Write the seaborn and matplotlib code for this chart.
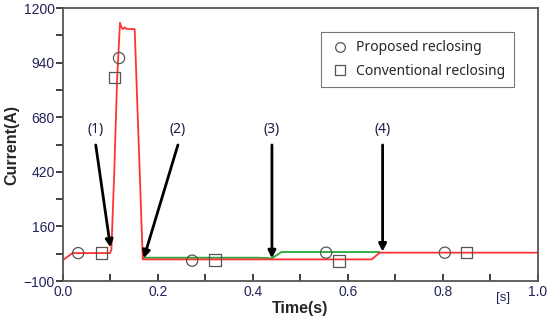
import numpy as np
import pandas as pd
import seaborn as sns
import matplotlib.pyplot as plt
from matplotlib.lines import Line2D

# conventional reclosing current (red)
conv_t = [0.0, 0.02, 0.099, 0.102, 0.108, 0.114, 0.12, 0.122, 0.126, 0.13, 0.134, 0.151, 0.168, 0.65, 0.667, 1.0]
conv_i = [0, 33, 33, 50, 420, 860, 1130, 1115, 1100, 1108, 1100, 1100, 3, 3, 35, 35]
# proposed reclosing current (green), only where it differs
prop_t = [0.168, 0.41, 0.44, 0.46, 0.667]
prop_i = [11, 11, 8, 38, 38]

# marker samples
circ_t = [0.032, 0.118, 0.272, 0.554, 0.804]
circ_i = [33, 962, -3, 35, 35]
sq_t = [0.081, 0.109, 0.32, 0.581, 0.85]
sq_i = [33, 871, 0, -5, 35]

# event arrows: label, tail (t, i), head (t, i)
events = ["(1)", "(2)", "(3)", "(4)"]
tail_t = [0.069, 0.242, 0.44, 0.673]
tail_i = [548, 548, 548, 548]
head_t = [0.1, 0.17, 0.44, 0.673]
head_i = [60, 8, 8, 40]

sns.set_style("ticks")
plt.rcParams['font.family'] = ['Liberation Sans', 'DejaVu Sans']

fig, ax = plt.subplots(figsize=(5.5, 3.23), dpi=100)
fig.subplots_adjust(left=0.1145, right=0.978, top=0.975, bottom=0.13)

sns.lineplot(x=prop_t, y=prop_i, color='#22a838', lw=1.3, ax=ax)
sns.lineplot(x=conv_t, y=conv_i, color='#ff3333', lw=1.3, ax=ax)

sns.scatterplot(x=circ_t, y=circ_i, marker='o', s=65, fc='none', ec='#555555', lw=0.9, ax=ax, zorder=3)
sns.scatterplot(x=sq_t, y=sq_i, marker='s', s=65, fc='none', ec='#555555', lw=0.9, ax=ax, zorder=3)

for lab, tx, ty, hx, hy in zip(events, tail_t, tail_i, head_t, head_i):
    ax.annotate('', xy=(hx, hy), xytext=(tx, ty),
                arrowprops=dict(arrowstyle='-|>', color='black', lw=2, mutation_scale=11,
                                shrinkA=0, shrinkB=0))
    ax.text(tx, ty + 38, lab, ha='center', va='bottom',
            fontsize=10, color='#1c1c44', family=['Noto Sans', 'DejaVu Sans'])

ax.set_xlim(0, 1.0)
ax.set_ylim(-100, 1200)
ax.set_xticks(np.arange(0, 1.01, 0.2))
ax.set_xticks(np.arange(0.1, 1.0, 0.2), minor=True)
ax.set_yticks([-100, 160, 420, 680, 940, 1200])
ax.set_yticks([30, 290, 550, 810, 1070], minor=True)
ax.set_xticklabels(['0.0', '0.2', '0.4', '0.6', '0.8', '1.0'])
ax.tick_params(axis='both', which='both', color='#333333', width=1.3,
               labelsize=10, labelcolor='#22225a', bottom=True, left=True,
               top=False, right=False)
ax.tick_params(axis='y', which='both', direction='out', length=5, pad=1)
ax.tick_params(axis='x', which='both', direction='in', length=5, pad=3)
for sp in ax.spines.values():
    sp.set_visible(True)
    sp.set_color('#555555')
    sp.set_linewidth(1.3)

ax.set_xlabel('Time(s)', fontsize=11.5, fontweight='bold', labelpad=1)
ax.set_ylabel('Current(A)', fontsize=11.5, fontweight='bold', labelpad=3)
ax.text(0.926, -0.04, '[s]', transform=ax.transAxes, ha='center', va='top',
        fontsize=9.5, color='#22225a')

handles = [Line2D([], [], ls='none', marker='o', mfc='none', mec='#555555', ms=7, mew=0.9),
           Line2D([], [], ls='none', marker='s', mfc='none', mec='#555555', ms=7, mew=0.9)]
leg = ax.legend(handles, ['Proposed reclosing', 'Conventional reclosing'],
                loc='upper right', bbox_to_anchor=(0.949, 0.912), borderaxespad=0,
                fancybox=False, edgecolor='#777777', framealpha=1,
                handletextpad=0.4, handlelength=1.5, borderpad=0.6, labelspacing=0.6,
                prop={'family': ['Noto Sans', 'DejaVu Sans'], 'size': 10})
leg.get_frame().set_linewidth(0.8)

fig.savefig('out.png', dpi=100)
